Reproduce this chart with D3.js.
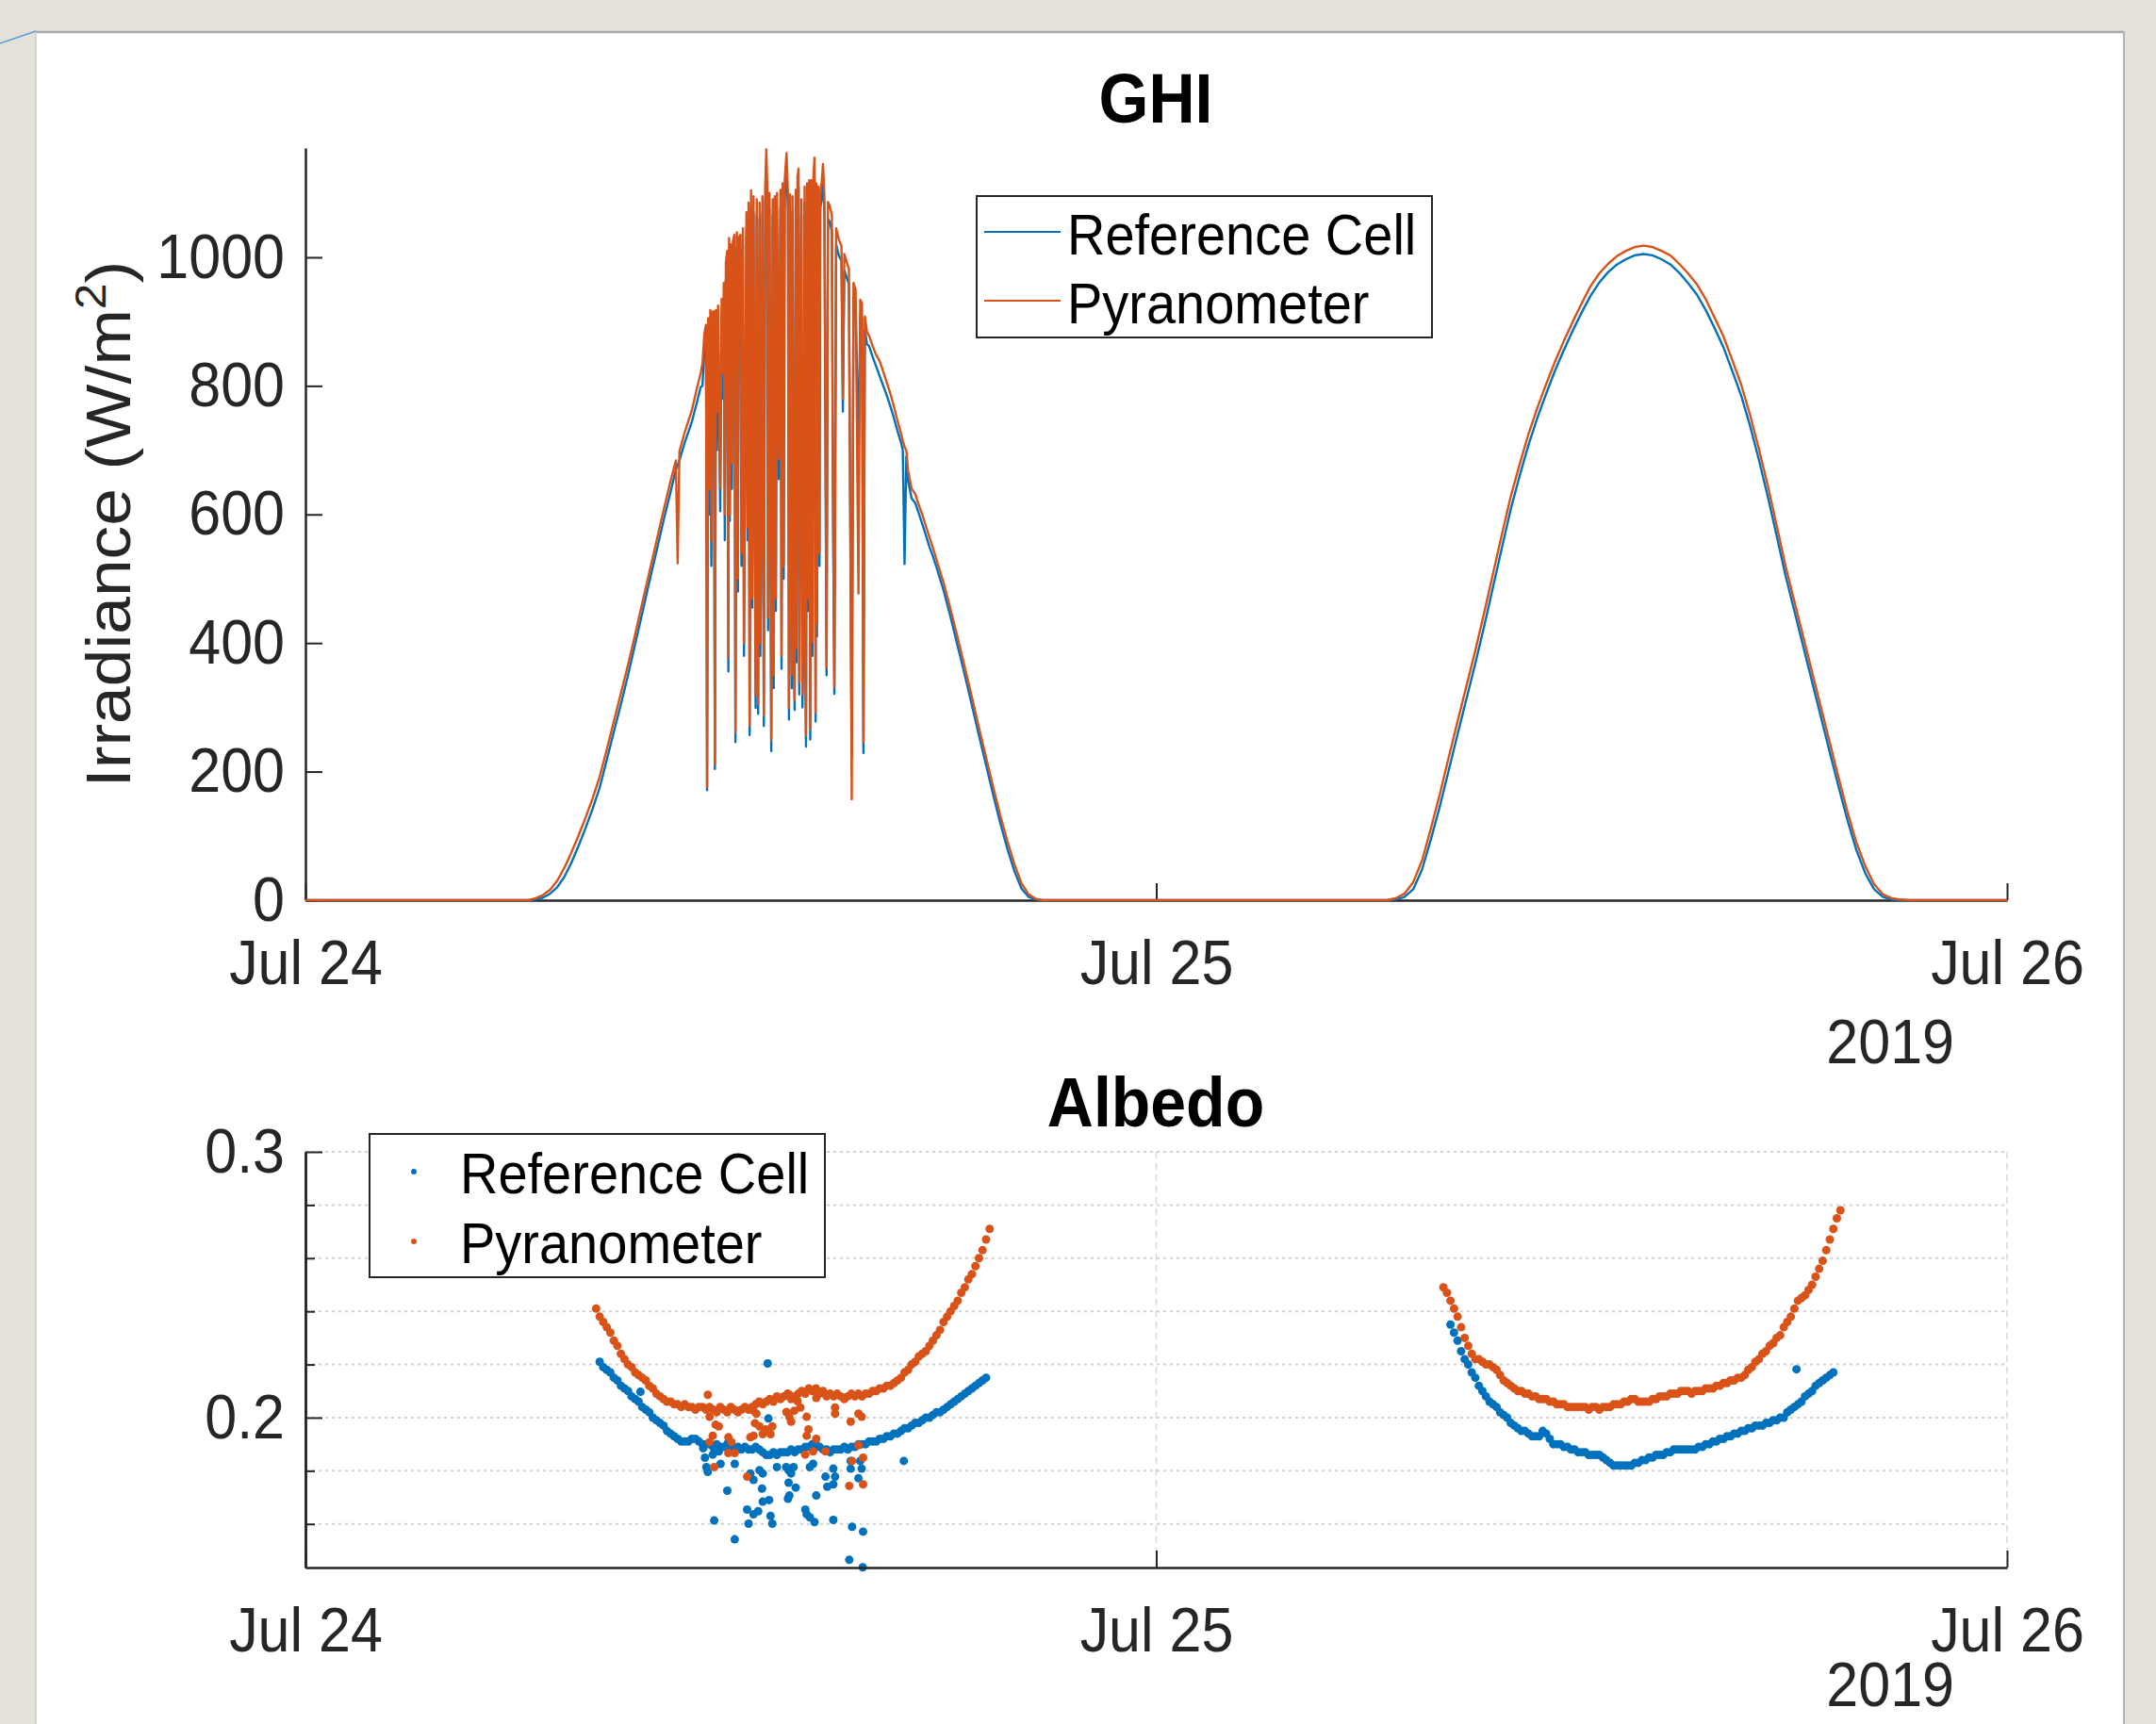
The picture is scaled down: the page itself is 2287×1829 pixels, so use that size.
<!DOCTYPE html>
<html>
<head>
<meta charset="utf-8">
<script src="https://cdn.jsdelivr.net/npm/d3@7"></script>
<style>
  html, body { margin: 0; padding: 0; background: #e4e0da; }
  svg { display: block; font-family: "Liberation Sans", Arial, Helvetica, sans-serif; }
</style>
</head>
<body>
<svg id="chart" width="2287" height="1829"></svg>
<script>
// ---------- data ----------
// GHI rows: [hours since Jul 24 00:00, reference cell, pyranometer] in W/m^2
var ghiMorning24 = [
  [0, 0, 0], [6.3, 0, 0], [6.5, 1, 3], [6.7, 4, 8], [6.9, 10, 16], [7.1, 20, 30], [7.3, 36, 50],
  [7.5, 58, 74], [7.7, 84, 100], [7.9, 112, 128], [8.1, 142, 158], [8.3, 175, 192], [8.5, 218, 234],
  [8.7, 262, 278], [8.9, 305, 322], [9.1, 350, 366], [9.3, 398, 413], [9.5, 446, 462], [9.7, 495, 510],
  [9.9, 542, 558], [10.1, 590, 606], [10.3, 635, 652], [10.45, 670, 684], [10.5, 676, 524],
  [10.55, 684, 698], [10.7, 712, 728], [10.9, 744, 762], [11.05, 776, 798], [11.15, 798, 820], [11.2, 800, 835]
];
var ghiClouds24 = [
  [11.25, 855, 880], [11.30, 870, 895], [11.33, 171, 176], [11.36, 880, 905], [11.40, 600, 640],
  [11.42, 895, 918], [11.45, 520, 560], [11.48, 890, 915], [11.52, 892, 916], [11.55, 204, 212],
  [11.58, 895, 918], [11.61, 700, 760], [11.64, 900, 925], [11.70, 605, 641], [11.74, 910, 935],
  [11.77, 780, 820], [11.80, 935, 960], [11.83, 560, 600], [11.86, 965, 992], [11.90, 985, 1010],
  [11.93, 356, 378], [11.95, 1005, 1030], [11.97, 590, 600], [12.00, 995, 1020], [12.03, 640, 680],
  [12.06, 1000, 1025], [12.10, 1010, 1035], [12.13, 246, 262], [12.17, 1015, 1039], [12.20, 480, 500],
  [12.22, 1005, 1030], [12.27, 1010, 1035], [12.30, 520, 540], [12.34, 1020, 1045], [12.37, 380, 400],
  [12.40, 700, 720], [12.44, 1045, 1070], [12.47, 560, 580], [12.50, 1060, 1085], [12.53, 257, 272],
  [12.57, 1078, 1104], [12.60, 455, 470], [12.64, 1070, 1095], [12.67, 620, 640], [12.70, 299, 318],
  [12.73, 1065, 1090], [12.77, 290, 305], [12.81, 1060, 1085], [12.83, 380, 400], [12.85, 500, 520],
  [12.89, 1070, 1095], [12.93, 271, 288], [12.97, 1085, 1110], [13.00, 1130, 1168], [13.03, 1080, 1105],
  [13.05, 420, 440], [13.09, 1075, 1100], [13.12, 560, 590], [13.14, 232, 250], [13.18, 1065, 1090],
  [13.21, 330, 350], [13.24, 1070, 1095], [13.27, 450, 470], [13.30, 1075, 1100], [13.35, 655, 687],
  [13.40, 1080, 1105], [13.43, 360, 380], [13.46, 1090, 1115], [13.49, 500, 520], [13.52, 1095, 1120],
  [13.57, 1130, 1162], [13.61, 1075, 1100], [13.64, 281, 300], [13.67, 1070, 1098], [13.70, 500, 520],
  [13.72, 330, 350], [13.74, 1070, 1095], [13.77, 420, 440], [13.80, 296, 312], [13.83, 1080, 1105],
  [13.85, 370, 392], [13.88, 1100, 1125], [13.91, 1110, 1138], [13.93, 320, 340], [13.95, 600, 622],
  [13.99, 1065, 1090], [14.02, 300, 320], [14.05, 420, 442], [14.08, 1085, 1110], [14.10, 380, 400],
  [14.12, 239, 256], [14.15, 1090, 1115], [14.18, 450, 470], [14.21, 1095, 1120], [14.24, 250, 266],
  [14.27, 1095, 1120], [14.30, 380, 402], [14.33, 1100, 1125], [14.36, 1125, 1155], [14.39, 278, 292],
  [14.41, 1090, 1115], [14.43, 410, 432], [14.47, 1085, 1110], [14.50, 520, 540], [14.52, 1075, 1100],
  [14.56, 1090, 1115], [14.60, 1115, 1145], [14.64, 1070, 1095], [14.67, 700, 720], [14.70, 350, 362],
  [14.74, 1060, 1086], [14.79, 1055, 1080], [14.85, 1040, 1065], [14.88, 620, 640], [14.92, 321, 332],
  [14.97, 1020, 1045], [15.05, 1002, 1027], [15.12, 995, 1018], [15.16, 760, 780], [15.20, 980, 1005],
  [15.27, 968, 992], [15.33, 958, 982], [15.41, 224, 157], [15.46, 938, 960], [15.52, 928, 950],
  [15.60, 700, 477], [15.65, 912, 934], [15.70, 905, 928], [15.74, 229, 246], [15.78, 888, 908],
  [15.84, 865, 884]
];
var ghiEvening24 = [
  [15.9, 862, 878], [16.0, 845, 862], [16.1, 830, 848], [16.2, 815, 838], [16.3, 800, 822],
  [16.4, 785, 805], [16.5, 768, 788], [16.6, 750, 768], [16.7, 730, 746], [16.8, 712, 726],
  [16.85, 700, 715], [16.9, 523, 705], [16.95, 690, 700], [17.0, 652, 668], [17.1, 625, 640],
  [17.2, 618, 632], [17.3, 602, 615], [17.4, 585, 600], [17.5, 568, 582], [17.6, 550, 565],
  [17.7, 535, 548], [17.8, 518, 530], [17.9, 500, 512], [18.0, 482, 494], [18.2, 440, 452],
  [18.4, 395, 408], [18.6, 350, 362], [18.8, 303, 316], [19.0, 256, 268], [19.2, 210, 222],
  [19.4, 164, 176], [19.6, 120, 132], [19.8, 80, 92], [20.0, 45, 56], [20.2, 18, 26],
  [20.4, 5, 9], [20.6, 1, 2], [20.8, 0, 0]
];
var ghiDay25 = [
  [30.5, 0, 0], [30.75, 1, 3], [31.0, 5, 10], [31.25, 17, 28], [31.5, 48, 62],
  [31.75, 95, 112], [32.0, 146, 165], [32.25, 202, 222], [32.5, 258, 278], [32.75, 313, 333],
  [33.0, 368, 388], [33.25, 426, 447], [33.5, 487, 508], [33.75, 548, 569], [34.0, 608, 628],
  [34.25, 660, 678], [34.5, 708, 725], [34.75, 750, 766], [35.0, 788, 803], [35.25, 824, 838],
  [35.5, 856, 870], [35.75, 886, 900], [36.0, 914, 928], [36.25, 940, 955], [36.5, 961, 975],
  [36.75, 977, 990], [37.0, 989, 1002], [37.25, 997, 1010], [37.5, 1003, 1016], [37.75, 1005, 1018],
  [38.0, 1003, 1016], [38.25, 997, 1010], [38.5, 989, 1003], [38.75, 976, 990], [39.0, 960, 975],
  [39.25, 942, 958], [39.5, 918, 935], [39.75, 890, 906], [40.0, 860, 877], [40.25, 823, 840],
  [40.5, 785, 802], [40.75, 738, 755], [41.0, 685, 702], [41.25, 628, 645], [41.5, 567, 583],
  [41.75, 505, 520], [42.0, 450, 465], [42.25, 395, 410], [42.5, 340, 355], [42.75, 285, 300],
  [43.0, 230, 245], [43.25, 176, 190], [43.5, 124, 137], [43.75, 78, 90], [44.0, 42, 53],
  [44.25, 17, 25], [44.5, 5, 9], [44.75, 1, 3], [45.0, 0, 1], [45.25, 0, 0], [48, 0, 0]
];

// Albedo, one sample every albStep hours from the given start hour
var albStep = 0.1;
var albPyr24Start = 8.2;
var albPyr24 = [
  0.241,0.238,0.236,0.234,0.232,0.229,0.227,0.224,0.222,0.220,
  0.219,0.217,0.216,0.215,0.214,0.212,0.211,0.209,0.208,0.207,
  0.206,0.206,0.205,0.205,0.204,0.205,0.204,0.204,0.203,0.204,
  0.204,0.203,0.204,0.203,0.202,0.204,0.203,0.202,0.204,0.203,
  0.202,0.203,0.204,0.203,0.204,0.205,0.206,0.205,0.206,0.207,
  0.206,0.208,0.207,0.208,0.209,0.207,0.208,0.209,0.210,0.209,
  0.211,0.210,0.211,0.209,0.210,0.208,0.209,0.208,0.209,0.208,
  0.207,0.208,0.209,0.208,0.209,0.208,0.209,0.209,0.210,0.210,
  0.211,0.211,0.212,0.212,0.213,0.214,0.215,0.217,0.218,0.220,
  0.221,0.223,0.224,0.225,0.227,0.229,0.231,0.233,0.236,0.238,
  0.240,0.242,0.244,0.247,0.249,0.252,0.254,0.257,0.260,0.263,
  0.267,0.271
];
var albRef24Start = 8.3;
var albRef24 = [
  0.221,0.219,0.218,0.217,0.215,0.214,0.212,0.211,0.210,0.208,
  0.207,0.206,0.204,0.203,0.202,0.200,0.199,0.198,0.197,0.195,
  0.194,0.193,0.192,0.191,0.191,0.191,0.192,0.192,0.191,0.190,
  0.190,0.190,0.189,0.190,0.189,0.189,0.190,0.189,0.188,0.189,
  0.188,0.189,0.188,0.188,0.189,0.188,0.187,0.186,0.186,0.187,
  0.186,0.187,0.187,0.187,0.188,0.187,0.188,0.188,0.189,0.189,
  0.190,0.190,0.189,0.188,0.188,0.187,0.188,0.188,0.188,0.189,
  0.188,0.189,0.189,0.190,0.190,0.190,0.191,0.191,0.191,0.192,
  0.192,0.193,0.193,0.194,0.194,0.195,0.196,0.196,0.197,0.198,
  0.198,0.199,0.200,0.200,0.201,0.202,0.202,0.203,0.204,0.205,
  0.206,0.207,0.208,0.209,0.210,0.211,0.212,0.213,0.214,0.215
];
var albPyr25Start = 32.1;
var albPyr25 = [
  0.249,0.247,0.244,0.241,0.238,0.234,0.230,0.227,0.224,0.222,
  0.222,0.221,0.220,0.220,0.219,0.218,0.216,0.214,0.213,0.212,
  0.211,0.210,0.210,0.209,0.209,0.208,0.208,0.207,0.207,0.207,
  0.206,0.206,0.205,0.205,0.205,0.204,0.204,0.204,0.204,0.204,
  0.204,0.203,0.204,0.204,0.203,0.204,0.204,0.204,0.205,0.205,
  0.205,0.206,0.206,0.207,0.207,0.206,0.206,0.206,0.206,0.207,
  0.207,0.208,0.208,0.208,0.209,0.209,0.209,0.210,0.210,0.210,
  0.209,0.210,0.210,0.210,0.211,0.211,0.211,0.212,0.212,0.213,
  0.213,0.214,0.214,0.215,0.215,0.216,0.218,0.219,0.221,0.222,
  0.224,0.225,0.227,0.228,0.230,0.231,0.234,0.236,0.238,0.241,
  0.244,0.245,0.246,0.248,0.250,0.253,0.256,0.259,0.263,0.267,
  0.271,0.275,0.278
];
var albRef25Start = 32.3;
var albRef25 = [
  0.235,0.232,0.229,0.225,0.222,0.220,0.217,0.215,0.212,0.210,
  0.208,0.206,0.205,0.204,0.202,0.201,0.200,0.198,0.197,0.196,
  0.195,0.195,0.194,0.193,0.193,0.193,0.195,0.194,0.192,0.190,
  0.190,0.190,0.189,0.189,0.188,0.188,0.187,0.187,0.187,0.186,
  0.186,0.186,0.186,0.185,0.184,0.183,0.182,0.182,0.182,0.182,
  0.182,0.182,0.183,0.183,0.184,0.184,0.185,0.185,0.186,0.186,
  0.186,0.187,0.187,0.188,0.188,0.188,0.188,0.188,0.188,0.188,
  0.189,0.189,0.190,0.190,0.191,0.191,0.192,0.192,0.193,0.193,
  0.194,0.194,0.195,0.195,0.196,0.196,0.197,0.197,0.197,0.198,
  0.198,0.199,0.199,0.200,0.200,0.202,0.203,0.204,0.205,0.206,
  0.208,0.209,0.210,0.212,0.213,0.214,0.215,0.216,0.217
];
// scattered albedo samples under passing clouds: [hour, albedo]
var albRefOutliers = [
  [13.04,0.2204],[9.45,0.2097],[13.06,0.1997],[11.22,0.1885],[11.27,0.1849],[11.31,0.1814],
  [11.35,0.1796],[11.49,0.1861],[11.66,0.1873],[11.71,0.1826],[11.93,0.1908],[12.02,0.1873],
  [12.11,0.1826],[11.90,0.1725],[11.53,0.1613],[12.11,0.1542],[12.46,0.1654],[12.50,0.1601],
  [12.64,0.1636],[12.77,0.1648],[12.55,0.1790],[12.64,0.1766],[12.81,0.1802],[12.90,0.1790],
  [12.88,0.1733],[12.90,0.1684],[13.08,0.1690],[13.12,0.1630],[13.17,0.1601],[13.30,0.1814],
  [13.56,0.1814],[13.63,0.1802],[13.70,0.1790],[13.77,0.1814],[13.83,0.1737],[13.63,0.1755],
  [13.61,0.1695],[13.65,0.1707],[14.10,0.1654],[14.14,0.1636],[14.23,0.1625],[14.36,0.1607],
  [14.41,0.1707],[14.23,0.1814],[14.32,0.1826],[14.67,0.1778],[14.72,0.1740],[14.89,0.1749],
  [14.89,0.1808],[14.94,0.1778],[14.89,0.1615],[15.38,0.1808],[15.42,0.1589],[15.38,0.1837],
  [15.60,0.1772],[15.69,0.1808],[15.73,0.1571],[15.65,0.1837],[15.34,0.1465],[15.72,0.1437],
  [16.88,0.1837],[42.06,0.2182]
];
var albPyrOutliers = [
  [11.35,0.2086],[11.40,0.2003],[11.57,0.1973],[11.66,0.1967],[11.49,0.1932],[11.40,0.1908],
  [11.53,0.1814],[11.93,0.1867],[12.11,0.1867],[12.02,0.1908],[12.46,0.1778],[12.55,0.1926],
  [12.64,0.1932],[12.68,0.1979],[12.72,0.2015],[12.81,0.1967],[12.90,0.1938],[12.99,0.1956],
  [13.12,0.1938],[13.17,0.1967],[13.57,0.2021],[13.65,0.2003],[13.70,0.1985],[13.79,0.2026],
  [13.65,0.2086],[13.88,0.2062],[13.96,0.2038],[14.14,0.2003],[14.19,0.1956],[14.14,0.1932],
  [14.32,0.1873],[14.41,0.1920],[14.67,0.1873],[14.41,0.2074],[14.94,0.2038],[14.94,0.2015],
  [15.38,0.1985],[15.60,0.2015],[15.69,0.2003],[15.34,0.1743],[15.73,0.1749],[15.42,0.1837],
  [15.73,0.1849],[15.60,0.1896],[14.10,0.1861],[11.93,0.1926],[12.64,0.2026]
];

var seriesNames = ["Reference Cell", "Pyranometer"];
var dayTicks = [0, 24, 48];
var ghiTicks = [0, 200, 400, 600, 800, 1000];
var albMajorTicks = [0.2, 0.3];
var albMinorTicks = [0.16, 0.18, 0.22, 0.24, 0.26, 0.28];

// ---------- setup ----------
var W = 2287, H = 1829;
var blue = "#0072BD", orange = "#D95319", ink = "#262626";
var textStretch = 1.08;   // the source screenshot is slightly taller than wide
var svg = d3.select("#chart");

var t0 = Date.UTC(2019, 6, 24);
function toDate(h) { return new Date(t0 + h * 3600e3); }

var x = d3.scaleUtc().domain([toDate(0), toDate(48)]).range([324, 2129]);
var yGhi = d3.scaleLinear().domain([0, 1170]).range([955, 157]);
var yAlb = d3.scaleLinear().domain([0.1436, 0.3]).range([1663, 1222]);

// window background and white figure panel
svg.append("rect").attr("width", W).attr("height", H).attr("fill", "#e4e0da");
svg.append("rect").attr("x", 38).attr("y", 34).attr("width", 2215).attr("height", H - 34).attr("fill", "#fff");
svg.append("line").attr("x1", 38).attr("x2", 2253).attr("y1", 34).attr("y2", 34).attr("stroke", "#a8a8a8").attr("stroke-width", 2.5);
svg.append("line").attr("x1", 38).attr("x2", 38).attr("y1", 34).attr("y2", H).attr("stroke", "#c8c8c8").attr("stroke-width", 1.5);
svg.append("line").attr("x1", 2253).attr("x2", 2253).attr("y1", 34).attr("y2", H).attr("stroke", "#b4b4b4").attr("stroke-width", 2);
svg.append("line").attr("x1", 0).attr("y1", 46).attr("x2", 38).attr("y2", 33).attr("stroke", "#5b9bd5").attr("stroke-width", 1.5);

var fmtDay = d3.utcFormat("%b %d");

function xAxis(g, yPos, yearY) {
  var ax = d3.axisBottom(x)
    .tickValues(dayTicks.map(toDate))
    .tickFormat(fmtDay)
    .tickSizeInner(-18).tickSizeOuter(0).tickPadding(44);
  g.attr("transform", "translate(0," + yPos + ")").call(ax);
  styleAxis(g);
  // year label under the last tick
  g.append("text").attr("x", 2073).attr("y", yearY).attr("text-anchor", "end")
    .attr("fill", ink).attr("font-size", 61).text("2019");
}

function styleAxis(g) {
  g.select(".domain").attr("stroke", ink).attr("stroke-width", 2.5);
  g.selectAll(".tick line").attr("stroke", ink).attr("stroke-width", 2);
  g.selectAll(".tick text").attr("fill", ink).attr("font-size", 61)
    .attr("font-family", "Liberation Sans, Arial, sans-serif");
}

// ---------- GHI panel ----------
var ghi = svg.append("g");
var ghiRows = ghiMorning24.concat(ghiClouds24, ghiEvening24, ghiDay25);

ghi.append("text").attr("x", 1226).attr("y", 128).attr("text-anchor", "middle")
  .attr("font-size", 68).attr("font-weight", "bold").attr("fill", "#000").text("GHI");

var yLabel = ghi.append("text")
  .attr("class", "rotated")
  .attr("transform", "translate(138,556) rotate(-90) scale(" + textStretch + ",1)")
  .attr("text-anchor", "middle").attr("font-size", 66).attr("fill", ink);
yLabel.append("tspan").text("Irradiance (W/m");
yLabel.append("tspan").attr("font-size", 46).attr("dy", -26).text("2");
yLabel.append("tspan").attr("dy", 26).text(")");

ghi.append("g").call(function (g) {
  g.attr("transform", "translate(324,0)")
    .call(d3.axisLeft(yGhi).tickValues(ghiTicks).tickFormat(d3.format("d"))
      .tickSizeInner(-18).tickSizeOuter(0).tickPadding(22));
  styleAxis(g);
});
xAxis(ghi.append("g"), 955, 171);

[1, 2].forEach(function (col, k) {
  var line = d3.line()
    .x(function (d) { return x(toDate(d[0])); })
    .y(function (d) { return yGhi(d[col]); });
  ghi.append("path").datum(ghiRows)
    .attr("d", line).attr("fill", "none")
    .attr("stroke", k === 0 ? blue : orange).attr("stroke-width", 2.4)
    .attr("stroke-linejoin", "round");
});

// GHI legend
var lg = ghi.append("g");
lg.append("rect").attr("x", 1036).attr("y", 208).attr("width", 483).attr("height", 150)
  .attr("fill", "#fff").attr("stroke", ink).attr("stroke-width", 2);
seriesNames.forEach(function (name, i) {
  var ly = 246 + i * 73;
  lg.append("line").attr("x1", 1044).attr("x2", 1125).attr("y1", ly).attr("y2", ly)
    .attr("stroke", i === 0 ? blue : orange).attr("stroke-width", 2.2);
  lg.append("text").attr("x", 1132).attr("y", ly + 22).attr("font-size", 56).attr("fill", "#000").text(name);
});

// ---------- Albedo panel ----------
var alb = svg.append("g");

alb.append("text").attr("x", 1226).attr("y", 1193).attr("text-anchor", "middle")
  .attr("font-size", 68).attr("font-weight", "bold").attr("fill", "#000").text("Albedo");

// grid: dotted horizontal lines, dashed vertical at day ticks
alb.append("g").selectAll("line").data(albMinorTicks.concat(albMajorTicks)).enter().append("line")
  .attr("x1", 324).attr("x2", 2129)
  .attr("y1", function (d) { return yAlb(d); }).attr("y2", function (d) { return yAlb(d); })
  .attr("stroke", "#d2d2d2").attr("stroke-width", 2).attr("stroke-dasharray", "3,4");
alb.append("g").selectAll("line").data(dayTicks.slice(1)).enter().append("line")
  .attr("x1", function (d) { return x(toDate(d)); }).attr("x2", function (d) { return x(toDate(d)); })
  .attr("y1", yAlb(0.3)).attr("y2", yAlb(0.1436))
  .attr("stroke", "#d8d8d8").attr("stroke-width", 1.5).attr("stroke-dasharray", "7,5");

function albPoints(start, values) {
  return values.map(function (v, i) { return [start + i * albStep, v]; });
}
var refPts = albPoints(albRef24Start, albRef24).concat(albPoints(albRef25Start, albRef25), albRefOutliers);
var pyrPts = albPoints(albPyr24Start, albPyr24).concat(albPoints(albPyr25Start, albPyr25), albPyrOutliers);

[[refPts, blue], [pyrPts, orange]].forEach(function (s) {
  alb.append("g").selectAll("circle").data(s[0]).enter().append("circle")
    .attr("cx", function (d) { return x(toDate(d[0])); })
    .attr("cy", function (d) { return yAlb(d[1]); })
    .attr("r", 4.5).attr("fill", s[1]);
});

alb.append("g").call(function (g) {
  g.attr("transform", "translate(324,0)")
    .call(d3.axisLeft(yAlb).tickValues(albMinorTicks).tickFormat("")
      .tickSizeInner(-10).tickSizeOuter(0));
  styleAxis(g);
});
alb.append("g").call(function (g) {
  g.attr("transform", "translate(324,0)")
    .call(d3.axisLeft(yAlb).tickValues(albMajorTicks).tickFormat(d3.format(".1f"))
      .tickSizeInner(-18).tickSizeOuter(0).tickPadding(22));
  styleAxis(g);
});
xAxis(alb.append("g"), 1663, 145);

// Albedo legend
var la = alb.append("g");
la.append("rect").attr("x", 392).attr("y", 1203).attr("width", 483).attr("height", 152)
  .attr("fill", "#fff").attr("stroke", ink).attr("stroke-width", 2);
seriesNames.forEach(function (name, i) {
  var ly = 1243 + i * 74;
  la.append("circle").attr("cx", 439).attr("cy", ly).attr("r", 3).attr("fill", i === 0 ? blue : orange);
  la.append("text").attr("x", 488).attr("y", ly + 21).attr("font-size", 56).attr("fill", "#000").text(name);
});

// stretch glyphs vertically a little, about each text's own middle
svg.selectAll("text").filter(function () { return !this.classList.contains("rotated"); })
  .each(function () {
    var b = this.getBBox();
    var cy = b.y + b.height / 2;
    this.setAttribute("transform", "translate(0," + cy + ") scale(1," + textStretch + ") translate(0," + (-cy) + ")");
  });
</script>
</body>
</html>
